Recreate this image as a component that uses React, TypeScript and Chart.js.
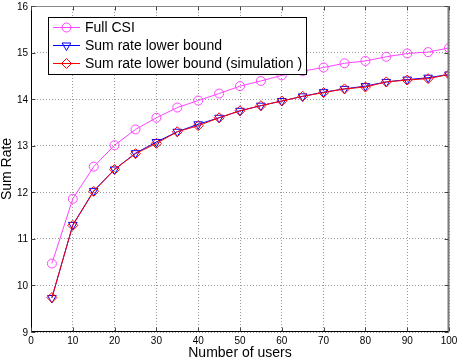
import React, { useEffect, useRef } from 'react';
import { Chart, registerables } from 'chart.js';

Chart.register(...registerables);

const users = [5, 10, 15, 20, 25, 30, 35, 40, 45, 50, 55, 60, 65, 70, 75, 80, 85, 90, 95, 100];
const fullCSI = [10.47, 11.86, 12.55, 13.01, 13.35, 13.6, 13.82, 13.97, 14.12, 14.28, 14.39, 14.51, 14.6, 14.68, 14.77, 14.82, 14.91, 14.98, 15.01, 15.1];
const lowerBound = [9.73, 11.3, 12.03, 12.49, 12.84, 13.08, 13.3, 13.46, 13.6, 13.75, 13.86, 13.96, 14.06, 14.15, 14.22, 14.28, 14.37, 14.42, 14.46, 14.53];
const lowerBoundSim = [9.74, 11.29, 12.02, 12.49, 12.83, 13.05, 13.3, 13.43, 13.6, 13.75, 13.86, 13.96, 14.06, 14.14, 14.22, 14.26, 14.37, 14.41, 14.44, 14.53];
const xTicks = [0, 10, 20, 30, 40, 50, 60, 70, 80, 90, 100];
const yTicks = [9, 10, 11, 12, 13, 14, 15, 16];
const seriesLabels = ['Full CSI', 'Sum rate lower bound', 'Sum rate lower bound (simulation )'];
const seriesColors = ['#ff44ff', '#0000ff', '#ff0000'];

const FONT = '"Liberation Sans", Arial, Helvetica, sans-serif';

function drawMarker(ctx: CanvasRenderingContext2D, kind: number, x: number, y: number) {
  ctx.beginPath();
  if (kind === 0) {
    ctx.arc(x, y, 4.5, 0, Math.PI * 2);
  } else if (kind === 1) {
    const r = 5;
    ctx.moveTo(x, y + r);
    ctx.lineTo(x - r * Math.sin((2 * Math.PI) / 3), y - r * 0.5);
    ctx.lineTo(x + r * Math.sin((2 * Math.PI) / 3), y - r * 0.5);
    ctx.closePath();
  } else {
    const r = 5;
    ctx.moveTo(x, y - r);
    ctx.lineTo(x + r, y);
    ctx.lineTo(x, y + r);
    ctx.lineTo(x - r, y);
    ctx.closePath();
  }
  ctx.stroke();
}

const framePlugin = {
  id: 'matlabFrame',
  afterDraw(chart: any) {
    const { ctx, chartArea } = chart;
    const { left, right, top, bottom } = chartArea;
    const xs = chart.scales.x;
    const ys = chart.scales.y;
    ctx.save();
    ctx.lineWidth = 1;
    const L = Math.round(left) + 0.5;
    const R = Math.round(right) - 0.5;
    const T = Math.round(top) + 0.5;
    const B = Math.round(bottom) - 0.5;
    ctx.strokeStyle = '#8a8a8a';
    ctx.beginPath();
    ctx.moveTo(L, T);
    ctx.lineTo(R, T);
    ctx.stroke();
    ctx.strokeStyle = '#7a7a7a';
    ctx.lineWidth = 2;
    ctx.beginPath();
    ctx.moveTo(R, T);
    ctx.lineTo(R, B);
    ctx.stroke();
    ctx.lineWidth = 1;
    ctx.strokeStyle = '#000';
    ctx.beginPath();
    ctx.moveTo(L, T);
    ctx.lineTo(L, B);
    ctx.lineTo(R, B);
    ctx.stroke();
    const tl = 4;
    ctx.strokeStyle = '#444';
    ctx.beginPath();
    xTicks.forEach((v) => {
      const px = Math.round(xs.getPixelForValue(v)) + 0.5;
      ctx.moveTo(px, B);
      ctx.lineTo(px, B - tl);
      ctx.moveTo(px, T);
      ctx.lineTo(px, T + tl);
    });
    yTicks.forEach((v) => {
      const py = Math.round(ys.getPixelForValue(v)) + 0.5;
      ctx.moveTo(L, py);
      ctx.lineTo(L + tl, py);
      ctx.moveTo(R, py);
      ctx.lineTo(R - tl, py);
    });
    ctx.stroke();

    // y tick labels, positioned by the y scale
    ctx.fillStyle = '#000';
    ctx.font = `10px ${FONT}`;
    ctx.textAlign = 'right';
    ctx.textBaseline = 'alphabetic';
    yTicks.forEach((v) => {
      const py = ys.getPixelForValue(v);
      ctx.fillText(String(v), left - 3, py + 3.6);
    });

    // legend box
    const bx = 48.5, by = 17.5, bw = 258, bh = 57;
    ctx.fillStyle = '#fff';
    ctx.fillRect(bx, by, bw, bh);
    ctx.strokeStyle = '#000';
    ctx.lineWidth = 1;
    ctx.strokeRect(bx, by, bw, bh);
    const rows = [27.5, 45.5, 63.5];
    ctx.font = `14px ${FONT}`;
    ctx.textBaseline = 'middle';
    ctx.textAlign = 'left';
    seriesLabels.forEach((lab, i) => {
      const y = rows[i];
      ctx.strokeStyle = seriesColors[i];
      ctx.lineWidth = 1;
      ctx.beginPath();
      ctx.moveTo(53, y);
      ctx.lineTo(80, y);
      ctx.stroke();
      drawMarker(ctx, i, 66.5, y);
      ctx.fillStyle = '#000';
      ctx.fillText(lab, 85, y + 1);
    });
    ctx.restore();
  },
};

export default function App() {
  const ref = useRef<HTMLCanvasElement>(null);
  useEffect(() => {
    if (!ref.current) return;
    const mk = (vals: number[]) => users.map((u, i) => ({ x: u, y: vals[i] }));
    const pointStyles = ['circle', 'triangle', 'rectRot'];
    const radii = [4.5, 5, 5];
    const rotations = [0, 180, 0];
    const allVals = [fullCSI, lowerBound, lowerBoundSim];
    const chart = new Chart(ref.current, {
      type: 'line',
      data: {
        datasets: allVals.map((vals, i) => ({
          label: seriesLabels[i],
          data: mk(vals),
          borderColor: seriesColors[i],
          backgroundColor: 'rgba(0,0,0,0)',
          pointBackgroundColor: 'rgba(0,0,0,0)',
          pointBorderColor: seriesColors[i],
          pointStyle: pointStyles[i] as any,
          pointRadius: radii[i],
          pointRotation: rotations[i],
          pointBorderWidth: 1,
          borderWidth: 1,
          tension: 0,
          fill: false,
          order: 2 - i,
        })),
      },
      options: {
        responsive: false,
        devicePixelRatio: 1,
        animation: false,
        layout: { padding: { top: 4, right: 8, left: 0, bottom: 0 } },
        plugins: { legend: { display: false }, tooltip: { enabled: false } },
        scales: {
          x: {
            type: 'linear',
            min: 0,
            max: 100,
            afterBuildTicks: (s: any) => {
              s.ticks = xTicks.map((v) => ({ value: v }));
            },
            afterFit: (s: any) => {
              s.height = 28;
              s.paddingLeft = 0;
              s.paddingRight = 0;
            },
            ticks: { color: '#000', font: { size: 10, family: FONT }, padding: 3, maxRotation: 0, autoSkip: false },
            grid: { color: '#9a9a9a', drawTicks: false, lineWidth: 1 },
            border: { display: false, dash: [1, 2] },
            title: {
              display: true,
              text: 'Number of users',
              color: '#000',
              font: { size: 14, family: FONT, lineHeight: 1 },
              padding: { top: 0, bottom: 0 },
            },
          },
          y: {
            type: 'linear',
            min: 9,
            max: 16,
            afterBuildTicks: (s: any) => {
              s.ticks = yTicks.map((v) => ({ value: v }));
            },
            afterFit: (s: any) => {
              s.width = 31;
              s.paddingTop = 0;
              s.paddingBottom = 0;
            },
            ticks: { display: false, autoSkip: false },
            grid: { color: '#9a9a9a', drawTicks: false, lineWidth: 1 },
            border: { display: false, dash: [1, 2] },
            title: {
              display: true,
              text: 'Sum Rate',
              color: '#000',
              font: { size: 14, family: FONT, lineHeight: 1 },
              padding: { top: 0, bottom: 0 },
            },
          },
        },
      },
      plugins: [framePlugin],
    });
    return () => chart.destroy();
  }, []);
  return (
    <div style={{ position: 'fixed', left: 0, top: 0, width: 457, height: 360, background: '#fff' }}>
      <canvas ref={ref} width={457} height={360} style={{ display: 'block' }} />
    </div>
  );
}
